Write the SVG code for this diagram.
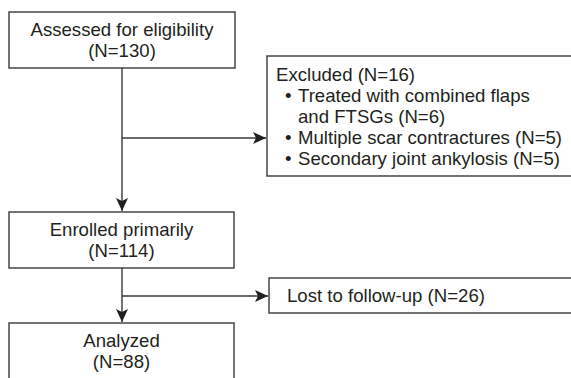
<svg xmlns="http://www.w3.org/2000/svg" width="571" height="378" viewBox="0 0 571 378">
<defs>
<marker id="ah" markerWidth="14" markerHeight="12" viewBox="0 0 14 12" refX="13" refY="6" orient="auto" markerUnits="userSpaceOnUse">
<path d="M0,0 L13,6 L0,12 L3,6 Z" fill="#231f20"/>
</marker>
</defs>
<style>
.box{fill:#fff;stroke:#3a3a3a;stroke-width:1.4}
.t{font-family:"Liberation Sans",Arial,sans-serif;font-size:18.6px;fill:#231f20}
.c{text-anchor:middle}
.ln{fill:none;stroke:#3a3a3a;stroke-width:1.4}
</style>
<rect width="571" height="378" fill="#fff"/>
<g id="connectors">
<line class="ln" x1="122" y1="68" x2="122" y2="211" marker-end="url(#ah)"/>
<line class="ln" x1="122" y1="138" x2="266" y2="138" marker-end="url(#ah)"/>
<line class="ln" x1="122" y1="268" x2="122" y2="322" marker-end="url(#ah)"/>
<line class="ln" x1="122" y1="296" x2="268" y2="296" marker-end="url(#ah)"/>
</g>
<g id="assessed">
<rect class="box" x="9" y="12" width="226" height="56"/>
<text class="t c" x="122" y="36">Assessed for eligibility</text>
<text class="t c" x="122" y="57">(N=130)</text>
</g>
<g id="excluded">
<rect class="box" x="267" y="56" width="310" height="120"/>
<text class="t" x="276" y="80.5">Excluded (N=16)</text>
<text class="t" x="285" y="101.5">•</text>
<text class="t" x="298" y="101.5">Treated with combined flaps</text>
<text class="t" x="298" y="122.5">and FTSGs (N=6)</text>
<text class="t" x="285" y="143.5">•</text>
<text class="t" x="298" y="143.5">Multiple scar contractures (N=5)</text>
<text class="t" x="285" y="164.5">•</text>
<text class="t" x="298" y="164.5">Secondary joint ankylosis (N=5)</text>
</g>
<g id="enrolled">
<rect class="box" x="9" y="212" width="225" height="56"/>
<text class="t c" x="121.5" y="236">Enrolled primarily</text>
<text class="t c" x="121.5" y="257">(N=114)</text>
</g>
<g id="lost">
<rect class="box" x="269" y="278" width="308" height="35"/>
<text class="t c" x="386" y="302">Lost to follow-up (N=26)</text>
</g>
<g id="analyzed">
<rect class="box" x="9" y="323" width="225" height="70"/>
<text class="t c" x="121.5" y="347">Analyzed</text>
<text class="t c" x="121.5" y="368">(N=88)</text>
</g>
</svg>
